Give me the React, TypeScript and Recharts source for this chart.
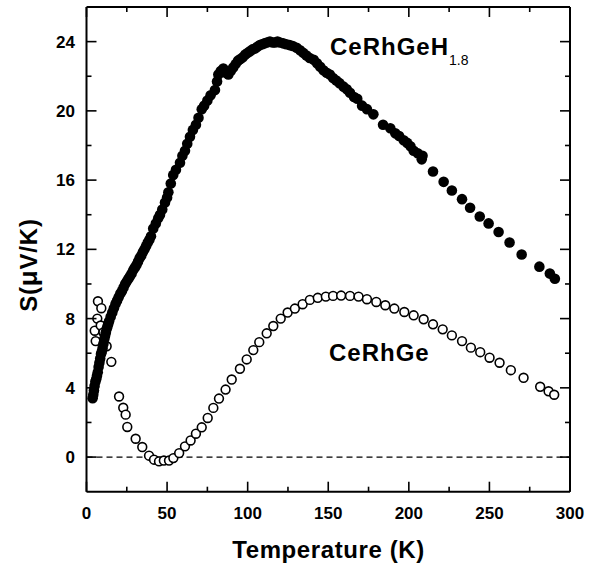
import React from 'react';
import { ScatterChart, Scatter, XAxis, YAxis, ReferenceLine } from 'recharts';

// CeRhGeH1.8 (filled circles): temperature (K) and thermopower (uV/K)
const hydrideT = [
  3.8, 4.2, 4.6, 5.0, 5.5, 6.0, 6.5, 7.0, 7.5, 8.0, 8.5, 9.0, 9.5, 10, 10.5, 11, 11.5, 12, 12.5, 13,
  13.5, 14, 15, 16, 17, 18, 19, 20, 21, 22, 23, 24, 25, 26, 27, 28, 29, 30, 31, 32,
  33, 34, 35, 36, 37, 38, 39, 40, 41.4, 43, 44.5, 45.6, 47, 48.7, 50, 50.8, 52.3, 53.8, 55.5, 58,
  59.5, 61.1, 62.5, 64.2, 66, 67.9, 69.5, 71.5, 73, 75, 77, 79.7, 81, 81.8, 83.3, 84.9, 86.5, 88, 89.5, 91,
  92.5, 94, 95.5, 97, 98.5, 100, 101.5, 103, 104.5, 106, 107.6, 109, 110.5, 112, 113.8, 115.5, 117, 118.5, 120, 122,
  124, 126, 128, 130.4, 132.5, 134.5, 136.5, 138.5, 141, 143, 145, 147, 149, 151, 153, 155, 157, 159.5, 161.5, 163.5,
  166, 168, 171, 174, 178, 184, 188.5, 191.6, 194, 196.8, 199, 201, 203, 205.5, 208, 208.5, 215, 221.6, 226.7, 233,
  238, 244, 249.5, 255.7, 262.5, 270, 281, 287.5, 290.6,
];
const hydrideS = [
  3.4, 3.6, 3.85, 4.1, 4.35, 4.5, 4.7, 4.9, 5.2, 5.45, 5.7, 5.95, 6.1, 6.3, 6.55, 6.8, 7.0, 7.2, 7.4, 7.55,
  7.7, 7.85, 8.1, 8.35, 8.6, 8.85, 9.05, 9.25, 9.45, 9.6, 9.8, 10.0, 10.15, 10.3, 10.45, 10.6, 10.8, 10.95, 11.1, 11.3,
  11.5, 11.65, 11.85, 12.0, 12.2, 12.4, 12.55, 12.75, 13.2, 13.5, 13.8, 14.0, 14.3, 14.7, 15.0, 15.3, 15.8, 16.3, 16.6, 17.0,
  17.4, 17.7, 18.1, 18.5, 18.9, 19.2, 19.6, 20.1, 20.3, 20.6, 20.9, 21.2, 21.7, 22.1, 22.3, 22.45, 22.2, 22.1, 22.3, 22.5,
  22.7, 22.9, 23.0, 23.1, 23.25, 23.35, 23.45, 23.55, 23.6, 23.7, 23.8, 23.85, 23.9, 23.95, 24.0, 23.95, 23.95, 24.0, 23.95, 23.9,
  23.85, 23.8, 23.75, 23.65, 23.5, 23.35, 23.2, 23.05, 22.95, 22.75, 22.55, 22.35, 22.2, 22.1, 21.9, 21.75, 21.6, 21.4, 21.25, 21.05,
  20.8, 20.7, 20.3, 20.1, 19.8, 19.2, 19.0, 18.7, 18.55, 18.3, 18.15, 17.95, 17.7, 17.55, 17.2, 17.4, 16.5, 15.9, 15.4, 14.9,
  14.4, 13.9, 13.5, 13.0, 12.4, 11.7, 11.0, 10.6, 10.3,
];

// CeRhGe (open circles)
const baseT = [
  5.1, 5.7, 6.7, 7.1, 8.8, 9.2, 10.5, 12.5, 15.4, 20.2, 22.8, 24.3, 25.3, 30.5, 34.6, 38.8, 41.9, 45, 48, 51.2,
  53.9, 57.5, 61.1, 64.6, 67.9, 71.5, 75.2, 78.7, 82.2, 86.3, 90.1, 95.2, 99.4, 103.5, 107.2, 111.8, 115.9, 120.5, 124.8, 129.3,
  134.1, 138.6, 143.5, 148.5, 153, 158, 163.5, 168.8, 174, 179.8, 185.4, 191, 197.2, 203, 209.2, 215, 221, 226.7, 233, 238.5,
  244.3, 250.1, 256.3, 263.3, 271.2, 281.5, 286.7, 290.2,
];
const baseS = [
  7.3, 6.7, 8.0, 9.0, 7.6, 8.6, 7.2, 6.4, 5.5, 3.5, 2.85, 2.45, 1.74, 1.06, 0.58, 0.08, -0.15, -0.25, -0.2, -0.2,
  -0.06, 0.23, 0.62, 0.96, 1.35, 1.72, 2.26, 2.84, 3.38, 3.9, 4.48, 5.1, 5.64, 6.18, 6.64, 7.15, 7.57, 8.0, 8.35, 8.58,
  8.83, 9.08, 9.2, 9.27, 9.31, 9.33, 9.31, 9.27, 9.12, 8.96, 8.77, 8.58, 8.38, 8.19, 7.96, 7.67, 7.38, 7.03, 6.7, 6.32,
  6.06, 5.74, 5.45, 5.02, 4.58, 4.06, 3.8, 3.6,
];

const xTicks = [0, 25, 50, 75, 100, 125, 150, 175, 200, 225, 250, 275, 300];
const xLabelled = [0, 50, 100, 150, 200, 250, 300];
const yTicks = [0, 2, 4, 6, 8, 10, 12, 14, 16, 18, 20, 22, 24];
const yLabelled = [0, 4, 8, 12, 16, 20, 24];

const hydride = hydrideT.map((t, i) => ({ t, s: hydrideS[i] }));
const base = baseT.map((t, i) => ({ t, s: baseS[i] }));

const FONT = '"Liberation Sans", Arial, sans-serif';
const MAJOR = 10;
const MINOR = 5;

const BottomTick = (p: any) => {
  const v = p.payload.value;
  const major = xLabelled.includes(v);
  return (
    <g>
      <line x1={p.x} x2={p.x} y1={p.y} y2={p.y - (major ? MAJOR : MINOR)} stroke="#000" strokeWidth={1.6} />
      {major && (
        <text x={p.x} y={p.y + 27.6} textAnchor="middle" fontFamily={FONT} fontWeight="bold" fontSize={17} fill="#000">
          {v}
        </text>
      )}
    </g>
  );
};

// top axis is 1px tall, so p.y sits on the frame line
const TopTick = (p: any) => {
  const major = xLabelled.includes(p.payload.value);
  return <line x1={p.x} x2={p.x} y1={p.y} y2={p.y + (major ? MAJOR : MINOR)} stroke="#000" strokeWidth={1.6} />;
};

const LeftTick = (p: any) => {
  const v = p.payload.value;
  const major = yLabelled.includes(v);
  return (
    <g>
      <line x1={p.x} x2={p.x + (major ? MAJOR : MINOR)} y1={p.y} y2={p.y} stroke="#000" strokeWidth={1.6} />
      {major && (
        <text x={p.x - 11.5} y={p.y + 6} textAnchor="end" fontFamily={FONT} fontWeight="bold" fontSize={17} fill="#000">
          {v}
        </text>
      )}
    </g>
  );
};

const RightTick = (p: any) => {
  const major = yLabelled.includes(p.payload.value);
  return <line x1={p.x} x2={p.x - (major ? MAJOR : MINOR)} y1={p.y} y2={p.y} stroke="#000" strokeWidth={1.6} />;
};

const FilledDot = (p: any) => <circle cx={p.cx} cy={p.cy} r={5.3} fill="#000" />;
const OpenDot = (p: any) => <circle cx={p.cx} cy={p.cy} r={4.4} fill="#fff" stroke="#000" strokeWidth={1.6} />;
const NoDot = () => <g />;

export default function App() {
  return (
    <div style={{ position: 'relative', width: 597, height: 568, background: '#fff' }}>
      <style>{'body{margin:0}'}</style>
      <ScatterChart width={597} height={568} margin={{ top: 6, right: 26, bottom: 0, left: 0 }}>
        <XAxis
          type="number"
          dataKey="t"
          domain={[0, 300]}
          ticks={xTicks}
          interval={0}
          height={76.3}
          tickSize={0}
          tickMargin={0}
          tickLine={false}
          tick={BottomTick}
          axisLine={{ stroke: '#000', strokeWidth: 2 }}
          allowDataOverflow
        />
        <XAxis
          xAxisId="top"
          orientation="top"
          type="number"
          dataKey="t"
          domain={[0, 300]}
          ticks={xTicks}
          interval={0}
          height={1}
          tickSize={0}
          tickMargin={0}
          tickLine={false}
          tick={TopTick}
          axisLine={{ stroke: '#000', strokeWidth: 2 }}
          allowDataOverflow
        />
        <YAxis
          type="number"
          dataKey="s"
          domain={[-2, 26]}
          ticks={yTicks}
          interval={0}
          width={86.5}
          tickSize={0}
          tickMargin={0}
          tickLine={false}
          tick={LeftTick}
          axisLine={{ stroke: '#000', strokeWidth: 2 }}
          allowDataOverflow
        />
        <YAxis
          yAxisId="right"
          orientation="right"
          type="number"
          dataKey="s"
          domain={[-2, 26]}
          ticks={yTicks}
          interval={0}
          width={1}
          tickSize={0}
          tickMargin={0}
          tickLine={false}
          tick={RightTick}
          axisLine={{ stroke: '#000', strokeWidth: 2 }}
          allowDataOverflow
        />
        <ReferenceLine y={0} stroke="#000" strokeWidth={1.2} strokeDasharray="6 4" />
        {/* invisible series so the mirrored top/right axes get drawn */}
        <Scatter xAxisId="top" yAxisId="right" data={hydride} shape={NoDot} isAnimationActive={false} />
        <Scatter data={base} shape={OpenDot} isAnimationActive={false} />
        <Scatter data={hydride} shape={FilledDot} isAnimationActive={false} />
      </ScatterChart>
      <svg
        width={597}
        height={568}
        style={{ position: 'absolute', left: 0, top: 0, pointerEvents: 'none' }}
        fontFamily={FONT}
        fill="#000"
      >
        <text x={330} y={55} fontSize={24} fontWeight="bold" letterSpacing={1}>
          CeRhGeH
          <tspan fontSize={14} fontWeight="normal" letterSpacing={0} dy={10}>1.8</tspan>
        </text>
        <text x={329} y={361} fontSize={24} fontWeight="bold" letterSpacing={1}>CeRhGe</text>
        <text x={328.5} y={558} fontSize={24} fontWeight="bold" textAnchor="middle" letterSpacing={0.6}>
          Temperature (K)
        </text>
        <text transform="translate(37,265) rotate(-90)" fontSize={24} fontWeight="bold" textAnchor="middle" letterSpacing={0.8}>
          S(<tspan fontSize={26}>μ</tspan>V/K)
        </text>
      </svg>
    </div>
  );
}
